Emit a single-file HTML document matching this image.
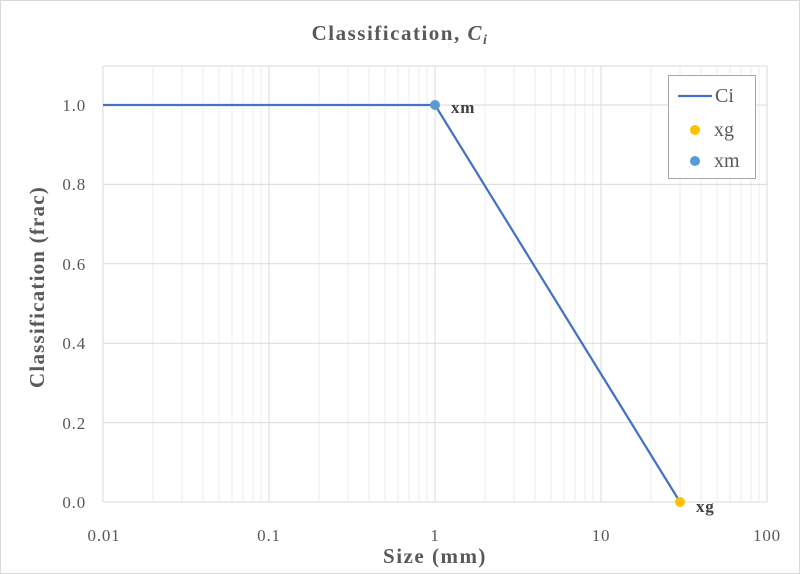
<!DOCTYPE html>
<html><head><style>body{margin:0;background:#fff}svg{display:block}text{font-family:"Liberation Serif",serif}</style></head><body>
<svg width="800" height="574" viewBox="0 0 800 574">
<rect x="0.5" y="0.5" width="799" height="573" fill="#fff" stroke="#d9d9d9"/>
<text x="400" y="40" text-anchor="middle" font-size="21" font-weight="bold" fill="#595959" letter-spacing="1.5">Classification, <tspan font-style="italic">C</tspan><tspan font-style="italic" font-size="14" dy="4">i</tspan></text>
<g stroke="#ededed" stroke-width="1">
<path d="M153 66V502M182 66V502M203 66V502M219 66V502M232 66V502M243 66V502M253 66V502M261 66V502M319 66V502M348 66V502M369 66V502M385 66V502M398 66V502M409 66V502M419 66V502M427 66V502M485 66V502M514 66V502M535 66V502M551 66V502M564 66V502M575 66V502M585 66V502M593 66V502M651 66V502M680 66V502M701 66V502M717 66V502M730 66V502M741 66V502M751 66V502M759 66V502"/>
</g>
<g stroke="#d9d9d9" stroke-width="1">
<path d="M103 66V502M269 66V502M435 66V502M601 66V502M767 66V502"/>
<path d="M103 66H767M103 105H767M103 184.4H767M103 263.8H767M103 343.2H767M103 422.6H767M103 502H767"/>
</g>
<polyline points="103,105 435,105 680,502" fill="none" stroke="#4472c4" stroke-width="2.25"/>
<circle cx="435" cy="105" r="5" fill="#5b9bd5"/>
<circle cx="680" cy="502" r="5" fill="#ffc000"/>
<text x="451" y="113" font-size="17" font-weight="bold" fill="#404040" letter-spacing="0.8">xm</text>
<text x="696" y="512" font-size="17" font-weight="bold" fill="#404040" letter-spacing="0.8">xg</text>
<g font-size="17" fill="#595959" text-anchor="end" letter-spacing="0.8">
<text x="86" y="111">1.0</text><text x="86" y="190">0.8</text><text x="86" y="270">0.6</text><text x="86" y="349">0.4</text><text x="86" y="429">0.2</text><text x="86" y="508">0.0</text>
</g>
<g font-size="17" fill="#595959" text-anchor="middle" letter-spacing="0.8">
<text x="104" y="541">0.01</text><text x="269" y="541">0.1</text><text x="435" y="541">1</text><text x="601" y="541">10</text><text x="767" y="541">100</text>
</g>
<text x="435" y="563" text-anchor="middle" font-size="21" font-weight="bold" fill="#595959" letter-spacing="1.5">Size (mm)</text>
<text transform="translate(44,287) rotate(-90)" text-anchor="middle" font-size="21" font-weight="bold" fill="#595959" letter-spacing="1.2">Classification (frac)</text>
<rect x="668.5" y="75.5" width="87" height="103" fill="#fff" stroke="#a6a6a6"/>
<line x1="678" y1="96" x2="712" y2="96" stroke="#4472c4" stroke-width="2.25"/>
<text x="715" y="102" font-size="20" fill="#595959">Ci</text>
<circle cx="695" cy="130" r="5" fill="#ffc000"/>
<text x="714" y="136" font-size="20" fill="#595959">xg</text>
<circle cx="695" cy="161" r="5" fill="#5b9bd5"/>
<text x="714" y="167" font-size="20" fill="#595959">xm</text>
</svg>
</body></html>
